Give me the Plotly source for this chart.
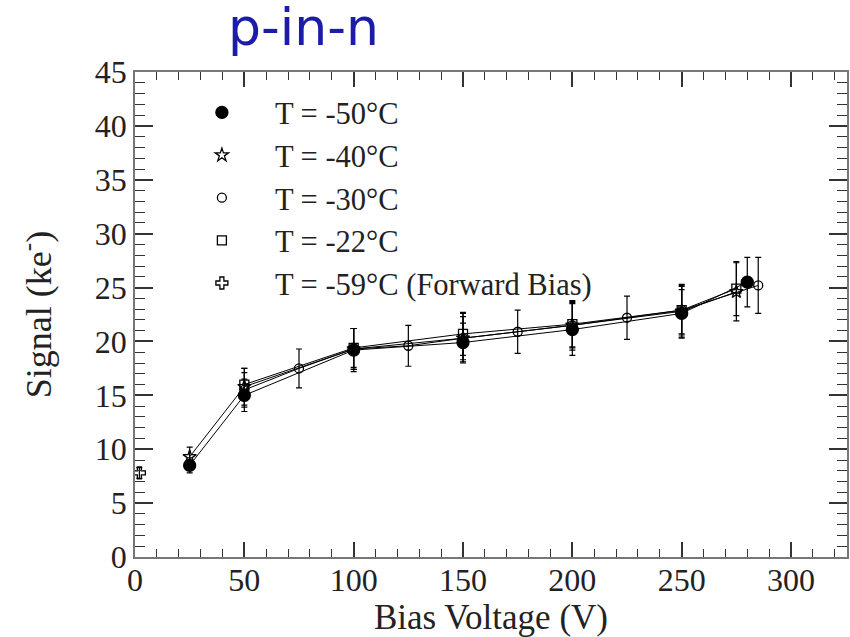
import plotly.graph_objects as go

# ---- data ----
x_m50 = [25, 50, 100, 150, 200, 250, 280]
y_m50 = [8.5, 15.0, 19.2, 19.9, 21.1, 22.6, 25.5]
e_m50 = [0.7, 1.5, 2.0, 1.8, 2.4, 2.2, 2.3]

x_m40 = [25, 50, 100, 150, 200, 250, 275]
y_m40 = [9.3, 15.8, 19.3, 20.3, 21.5, 22.8, 24.6]
e_m40 = [0.9, 1.7, 1.9, 2.3, 2.3, 2.5, 2.7]

x_m30 = [50, 75, 100, 125, 150, 175, 200, 225, 250, 285]
y_m30 = [15.5, 17.5, 19.3, 19.6, 20.3, 20.9, 21.5, 22.2, 22.9, 25.2]
e_m30 = [1.6, 1.8, 1.9, 1.9, 2.0, 2.0, 2.1, 2.0, 2.2, 2.6]

x_m22 = [50, 100, 150, 200, 250, 275]
y_m22 = [16.0, 19.4, 20.7, 21.6, 22.9, 24.9]
e_m22 = [1.5, 1.8, 2.0, 2.1, 2.3, 2.5]

x_fb = [2]
y_fb = [7.8]
e_fb = [0.5]

names = ["T = -50°C", "T = -40°C", "T = -30°C", "T = -22°C", "T = -59°C (Forward Bias)"]
x_ticks = [0, 50, 100, 150, 200, 250, 300]
y_ticks = [0, 5, 10, 15, 20, 25, 30, 35, 40, 45]

series = [
    (x_m50, y_m50, e_m50, "circle", 12),
    (x_m40, y_m40, e_m40, "star-open", 10),
    (x_m30, y_m30, e_m30, "circle-open", 9),
    (x_m22, y_m22, e_m22, "square-open", 9),
    (x_fb, y_fb, e_fb, "cross-open", 10),
]

fig = go.Figure()
# connecting lines (no legend entries)
for i, (xs, ys, es, sym, sz) in enumerate(series):
    fig.add_trace(go.Scatter(
        x=xs, y=ys, mode="lines", showlegend=False, hoverinfo="skip",
        line=dict(color="black", width=1),
    ))
# markers with error bars (legend shows marker only)
for i, (xs, ys, es, sym, sz) in enumerate(series):
    fig.add_trace(go.Scatter(
        x=xs, y=ys, name=names[i], mode="markers",
        marker=dict(symbol=sym, size=sz, color="black",
                    line=dict(color="black", width=1.3)),
        error_y=dict(type="data", array=es, visible=True,
                     color="black", thickness=1.2, width=3),
    ))

font_serif = "Liberation Serif, Times New Roman, serif"
axis_common = dict(
    showline=True, linecolor="#777", linewidth=1.5, mirror="allticks",
    ticks="inside", tickwidth=1.5, tickcolor="#333",
    showgrid=False, zeroline=False,
    tickfont=dict(family=font_serif, size=32, color="#222"),
)

fig.update_layout(
    width=850, height=637,
    margin=dict(l=135, r=1, t=72, b=80),
    paper_bgcolor="white", plot_bgcolor="white",
    font=dict(family=font_serif, color="#222"),
    showlegend=True,
    legend=dict(x=0.0476, y=0.971, xanchor="left", yanchor="top",
                bgcolor="rgba(0,0,0,0)", font=dict(family=font_serif, size=30.5, color="#222"),
                tracegroupgap=0, itemwidth=96),
    xaxis=dict(range=[0, 325.6], tickvals=x_ticks, ticklen=15, ticklabelstandoff=-6,
               minor=dict(dtick=10, ticklen=8, ticks="inside", tickcolor="#333", tickwidth=1.2),
               title=dict(text="Bias Voltage (V)", font=dict(family=font_serif, size=35, color="#222"), standoff=8),
               **axis_common),
    yaxis=dict(range=[0, 45], tickvals=y_ticks, ticklen=18,
               minor=dict(dtick=1, ticklen=10, ticks="inside", tickcolor="#333", tickwidth=1.2),
               title=dict(text="Signal (ke<sup>-</sup>)", font=dict(family=font_serif, size=36, color="#222"), standoff=32),
               **axis_common),
    annotations=[dict(text="p-in-n", x=0.237, y=1.0, xref="paper", yref="paper",
                      xanchor="center", yanchor="bottom", yshift=13, showarrow=False,
                      font=dict(family="DejaVu Sans, Arial, sans-serif", size=52, color="#1c1ca8"))],
)

fig.write_html("out.html")
